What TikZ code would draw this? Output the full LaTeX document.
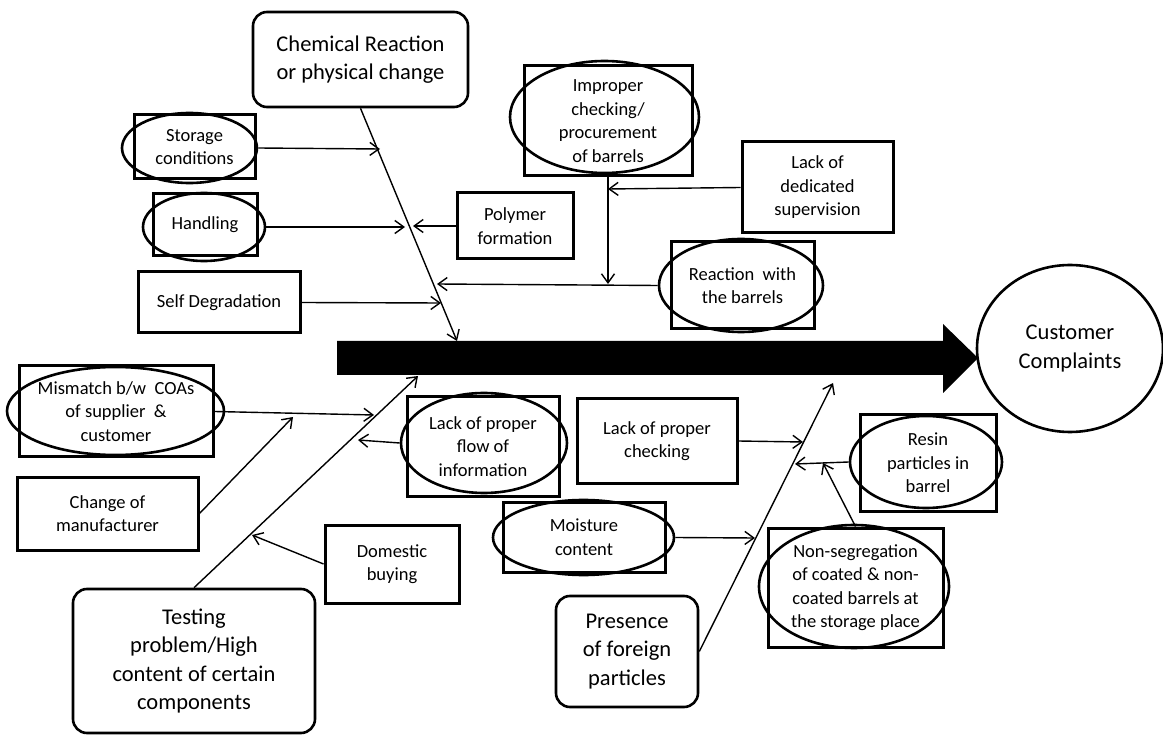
\documentclass[tikz,border=0pt]{standalone}
\usepackage{fontspec}
\setmainfont{Carlito}
\usepackage{tikz}
\usetikzlibrary{shapes.geometric,arrows.meta}

\newcommand\smalltxt{\fontsize{18.5}{23.5}\selectfont}
\newcommand\bigtxt{\fontsize{22.5}{28.5}\selectfont}

\tikzset{
    box/.style={draw, line width=3pt, align=center, inner sep=0pt, font=\smalltxt},
    oval/.style={draw, ellipse, line width=2.6pt, inner sep=0pt},
    headbox/.style={draw, rounded corners=14pt, line width=2.6pt, align=center, inner sep=0pt, font=\bigtxt},
    arr/.style={-{Straight Barb[length=9pt,width=13pt]}, line width=1.4pt}
}

\begin{document}
\begin{tikzpicture}[x=1pt,y=-1pt]
        \useasboundingbox (0,0) rectangle (1163,735);

        % Main spine and the effect
        \fill (337,341) -- (943,341) -- (943,324) -- (978,358) -- (943,393) -- (943,375) -- (337,375) -- cycle;
        \node[oval, minimum width=186, minimum height=167, align=center, font=\bigtxt] (customer) at (1070,348.5) {Customer\\Complaints};

        % Upper bone: chemical reaction
        \node[headbox, minimum width=215, minimum height=95] (chem) at (360.5,59.5) {Chemical Reaction\\or physical change};
        \node[box, minimum width=121, minimum height=64] (storage) at (194.5,147) {Storage\\conditions};
        \node[oval, minimum width=135, minimum height=70] (storageoval) at (189.5,148) {};
        \node[box, minimum width=104, minimum height=62] (handling) at (205,225) {Handling};
        \node[oval, minimum width=122, minimum height=68] (handlingoval) at (204,227) {};
        \node[box, minimum width=162, minimum height=61] (selfdeg) at (219,302.5) {Self Degradation};
        \node[box, minimum width=116, minimum height=66] (polymer) at (515,226) {Polymer\\formation};
        \node[box, minimum width=168, minimum height=110] (improper) at (608,121) {Improper\\checking/\\procurement\\of barrels};
        \node[oval, minimum width=189, minimum height=112] (improperoval) at (604.5,117) {};
        \node[box, minimum width=151, minimum height=91] (supervision) at (817.5,187.5) {Lack of\\dedicated\\supervision};
        \node[box, minimum width=143, minimum height=87] (reaction) at (742.5,285.5) {Reaction\ \ with\\the barrels};
        \node[oval, minimum width=164, minimum height=93] (reactionoval) at (741,285.5) {};

        \coordinate (chemtip) at (457,341);
        \coordinate (s1) at (380,149);
        \coordinate (h1) at (405,227);
        \coordinate (p1) at (413,226);
        \coordinate (d1) at (441,303);
        \coordinate (r1) at (437,284);
        \coordinate (v1) at (608,284);
        \coordinate (v2) at (608,189);

        \draw[arr] (chem.south) -- (chemtip);
        \draw[arr] (storageoval.east) -- (s1);
        \draw[arr] (handlingoval.east) -- (h1);
        \draw[arr] (polymer.west) -- (p1);
        \draw[arr] (selfdeg.east) -- (d1);
        \draw[arr] (reactionoval.west) -- (r1);
        \draw[arr] (improper.south) -- (v1);
        \draw[arr] (supervision.west) -- (v2);

        % Lower left bone: testing problem
        \node[headbox, minimum width=242, minimum height=144] (testing) at (194,661) {Testing\\problem/High\\content of certain\\components};
        \node[box, minimum width=194, minimum height=91] (mismatch) at (116,411.5) {Mismatch b/w\ \ COAs\\of supplier\ \ \&\\customer};
        \node[oval, minimum width=217, minimum height=88] (mismatchoval) at (115.5,411) {};
        \node[box, minimum width=181, minimum height=73] (change) at (107.5,513.5) {Change of\\manufacturer};
        \node[box, minimum width=134, minimum height=78] (domestic) at (392,564) {Domestic\\buying};
        \node[box, minimum width=152, minimum height=99] (flow) at (483,446.5) {Lack of proper\\flow of\\information};
        \node[oval, minimum width=166, minimum height=100] (flowoval) at (484,443) {};

        \coordinate (testtip) at (418,376);
        \coordinate (m1) at (374,415);
        \coordinate (c1) at (293,417);
        \coordinate (dm1) at (252,535);
        \coordinate (f1) at (358,440);

        \draw[arr] (testing.north) -- (testtip);
        \draw[arr] (mismatch.east) -- (m1);
        \draw[arr] (change.east) -- (c1);
        \draw[arr] (domestic.west) -- (dm1);
        \draw[arr] (flowoval.west) -- (f1);

        % Lower right bone: foreign particles
        \node[headbox, minimum width=142, minimum height=111] (presence) at (627,651.5) {Presence\\of foreign\\particles};
        \node[box, minimum width=160, minimum height=84] (checking) at (657,441) {Lack of proper\\checking};
        \node[box, minimum width=162, minimum height=70] (moisture) at (584,537) {Moisture\\content};
        \node[oval, minimum width=181, minimum height=75] (moistureoval) at (583.5,537.5) {};
        \node[box, minimum width=136, minimum height=96] (resin) at (928,463) {Resin\\particles in\\barrel};
        \node[oval, minimum width=152, minimum height=92] (resinoval) at (926,462) {};
        \node[box, minimum width=175, minimum height=119] (nonseg) at (855.5,587.5) {Non-segregation\\of coated \& non-\\coated barrels at\\the storage place};
        \node[oval, minimum width=190, minimum height=123] (nonsegoval) at (854,586.5) {};

        \coordinate (prestip) at (833,383);
        \coordinate (k1) at (803,442);
        \coordinate (mo1) at (755,538);
        \coordinate (re1) at (795,464);
        \coordinate (n1) at (823,463);

        \draw[arr] (presence.east) -- (prestip);
        \draw[arr] (checking.east) -- (k1);
        \draw[arr] (moistureoval.east) -- (mo1);
        \draw[arr] (resinoval.west) -- (re1);
        \draw[arr] (nonseg.north) -- (n1);

    \end{tikzpicture}
\end{document}
